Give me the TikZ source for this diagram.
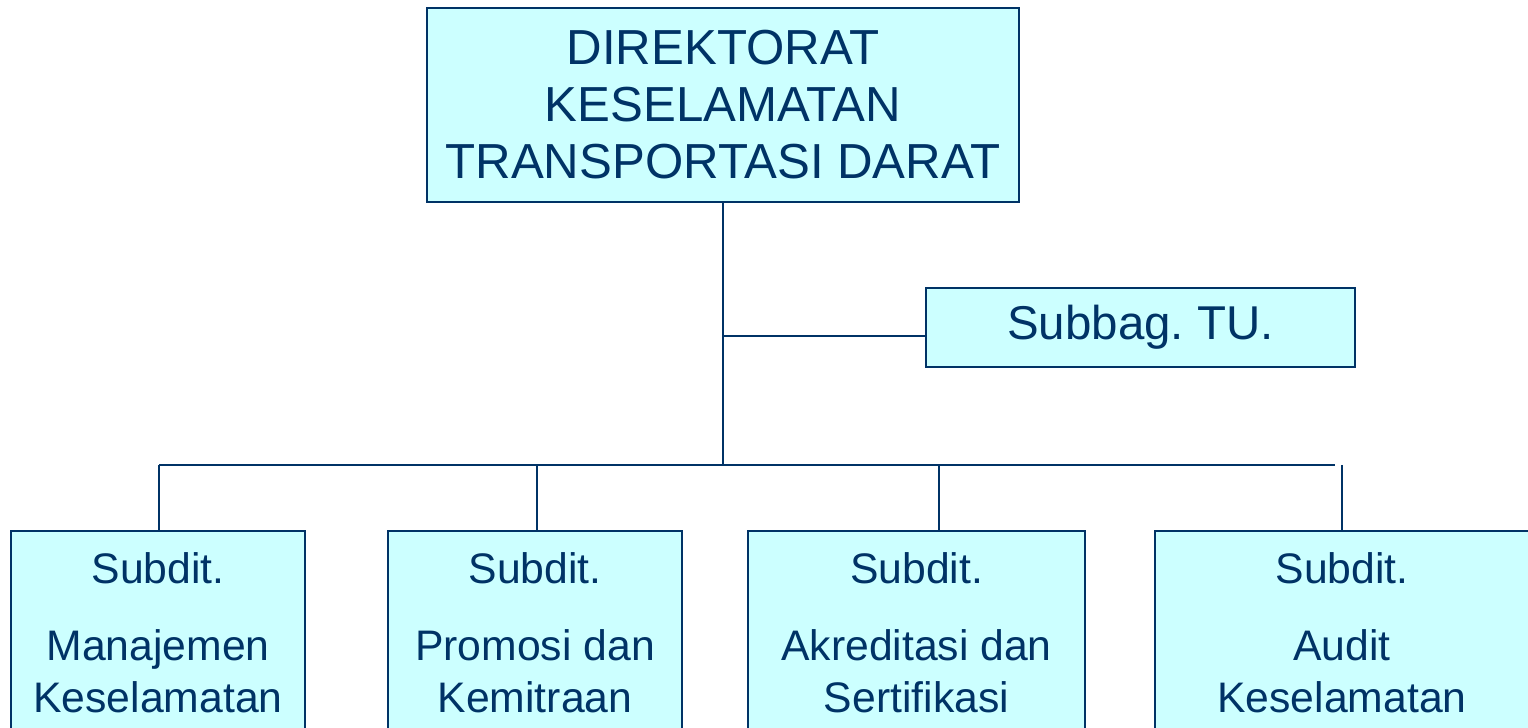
\documentclass[tikz,border=0pt]{standalone}
\usepackage{fontspec}
\setmainfont{Liberation Sans}
\frenchspacing
\usetikzlibrary{calc}
\definecolor{navy}{HTML}{003366}
\definecolor{paleblue}{HTML}{CCFFFF}
\tikzset{
	orgbox/.style={draw=navy, fill=paleblue, line width=0.04cm, text=navy, align=center, inner sep=0pt},
	subbox/.style={orgbox, anchor=north, text height=3.64cm, text depth=0.9cm, font=\fontsize{24.3}{29.6}\selectfont},
	link/.style={draw=navy, line width=0.04cm}
}

\begin{document}
\begin{tikzpicture}
			%%%%% START %%%%%
			
			\clip (0, 0) rectangle (30.56, 14.56);
			
			\node[orgbox, minimum width=11.84cm, minimum height=3.88cm, font=\fontsize{28}{32.4}\selectfont] (dirbox) at (14.46, 12.46) {DIREKTORAT\\KESELAMATAN\\TRANSPORTASI DARAT};
			\node[orgbox, minimum width=8.58cm, minimum height=1.58cm, font=\fontsize{27}{32}\selectfont] (tubox) at (22.81, 8.01) {Subbag. TU.};
			
			\coordinate (trunk) at (14.46, 5.26);
			\coordinate (tujoin) at (14.46, 7.84);
			\draw[link] (dirbox.south) -- (trunk);
			\draw[link] (tujoin) -- (tujoin -| tubox.west);
			
			\coordinate (busl) at (3.18, 5.26);
			\coordinate (busr) at (26.70, 5.26);
			\draw[link] (busl) -- (busr);
			
			\node[subbox, minimum width=5.88cm] (sub1) at (3.16, 3.96) {Subdit.\\[0.5cm]Manajemen\\Keselamatan};
			\node[subbox, minimum width=5.88cm] (sub2) at (10.70, 3.96) {Subdit.\\[0.5cm]Promosi dan\\Kemitraan};
			\node[subbox, minimum width=6.74cm] (sub3) at (18.33, 3.96) {Subdit.\\[0.5cm]Akreditasi dan\\Sertifikasi};
			\node[subbox, minimum width=7.48cm] (sub4) at (26.84, 3.96) {Subdit.\\[0.5cm]Audit\\Keselamatan};
			
			\coordinate (drop1) at (3.18, 5.26);
			\coordinate (drop2) at (10.74, 5.26);
			\coordinate (drop3) at (18.78, 5.26);
			\coordinate (drop4) at (26.84, 5.26);
			\foreach \d in {1,2,3,4}
				\draw[link] (drop\d) -- (drop\d |- sub\d.north);
			
			%%%%% END %%%%%
		\end{tikzpicture}
\end{document}
